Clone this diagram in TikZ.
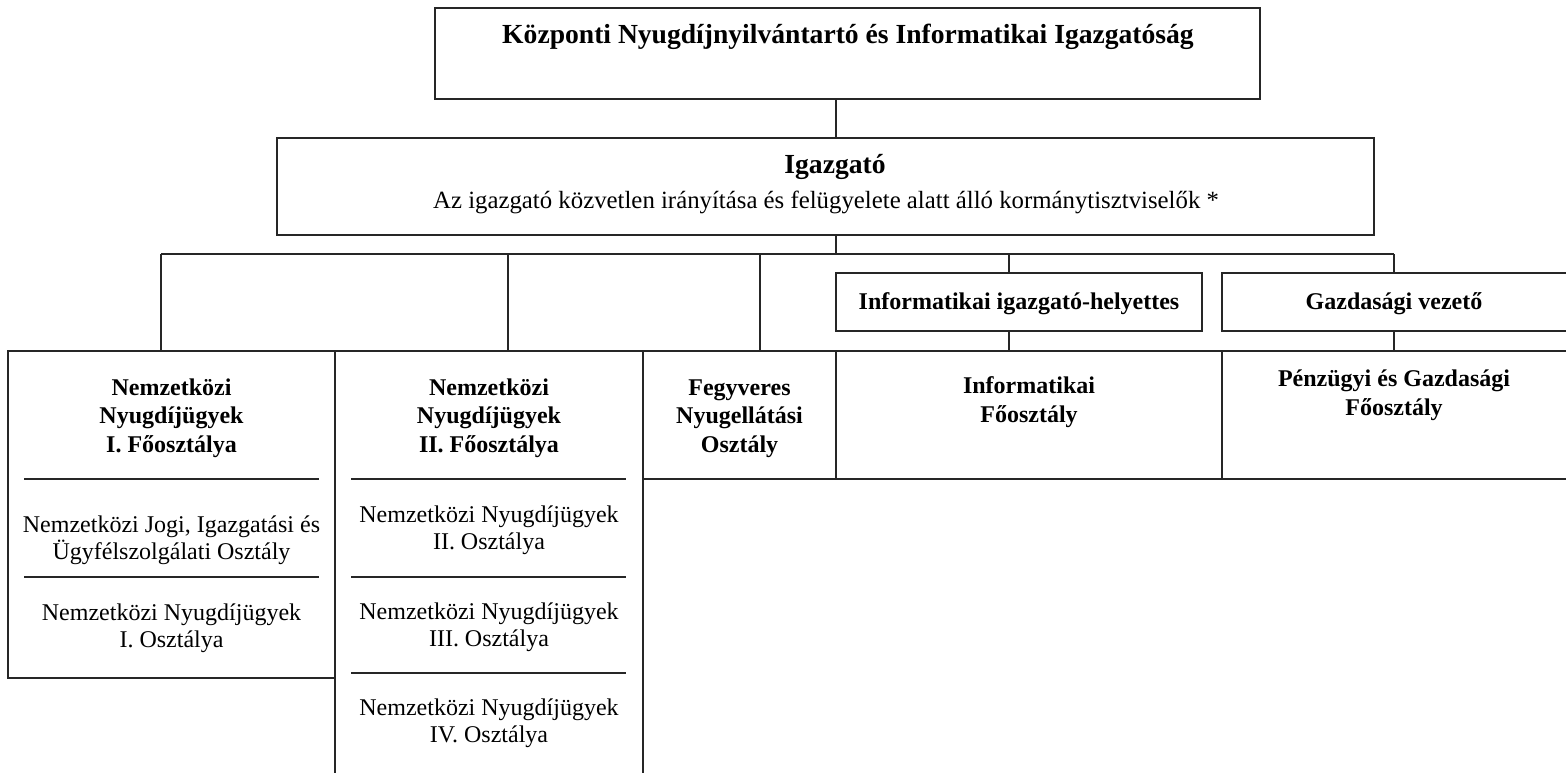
\documentclass[tikz,border=0pt]{standalone}
\usepackage{fontspec}
\setmainfont{Liberation Serif}
\newcommand\orgbox[5]{\node[boxst, minimum width={(#4-#2)*0.5pt}, minimum height={(#5-#3)*0.5pt}] (#1) at ({(#2+#4)/2},{(#3+#5)/2}) {};}
\begin{document}
\begin{tikzpicture}[x=0.5pt,y=-0.5pt,
  boxst/.style={draw=black!85, line width=0.75pt, rectangle, inner sep=0pt, outer sep=0pt},
  conn/.style={draw=black!85, line width=0.6pt},
  sepline/.style={draw=black!85, line width=0.6pt},
  ttl/.style={font=\bfseries\fontsize{12}{14.2}\selectfont, align=center, anchor=base, inner sep=0pt},
  bigttl/.style={font=\bfseries\fontsize{13.8}{16}\selectfont, align=center, anchor=base, inner sep=0pt},
  txt/.style={font=\fontsize{12}{13.3}\selectfont, align=center, anchor=base, inner sep=0pt}]
\useasboundingbox (0,0) rectangle (1566,772);
\fill[white] (0,0) rectangle (1566,772);
% boxes
\orgbox{kozp}{435}{8}{1260}{99}
\orgbox{igaz}{277}{138}{1374}{235}
\orgbox{ihely}{836}{273}{1202}{331}
\orgbox{gazd}{1222}{273}{1570}{331}
\orgbox{nf1}{8}{351}{335}{678}
\orgbox{nf2}{335}{351}{643}{800}
\orgbox{fegy}{643}{351}{836}{479}
\orgbox{infof}{836}{351}{1222}{479}
\orgbox{penz}{1222}{351}{1570}{479}
% separators
\draw[sepline] (24,479) -- (319,479);
\draw[sepline] (24,577) -- (319,577);
\draw[sepline] (351,479) -- (626,479);
\draw[sepline] (351,577) -- (626,577);
\draw[sepline] (351,673) -- (626,673);
% connectors
\coordinate (j0) at (836,254);
\coordinate (bl) at (161,254);
\coordinate (b2) at (508,254);
\coordinate (b3) at (760,254);
\coordinate (b4) at (1009,254);
\coordinate (br) at (1394,254);
\draw[conn] (kozp.south -| j0) -- (igaz.north -| j0);
\draw[conn] (igaz.south -| j0) -- (j0);
\draw[conn] (bl) -- (br);
\draw[conn] (bl) -- (nf1.north -| bl);
\draw[conn] (b2) -- (nf2.north -| b2);
\draw[conn] (b3) -- (fegy.north -| b3);
\draw[conn] (b4) -- (ihely.north -| b4);
\draw[conn] (ihely.south -| b4) -- (infof.north -| b4);
\draw[conn] (br) -- (gazd.north -| br);
\draw[conn] (gazd.south -| br) -- (penz.north -| br);
% texts (anchored at the baseline of the last line)
\node[bigttl] (kozpt) at (848,43) {Központi Nyugdíjnyilvántartó és Informatikai Igazgatóság};
\node[bigttl] (igazt) at (835,173) {Igazgató};
\node[txt, font=\fontsize{12.4}{14}\selectfont] (igazs) at (826,208) {Az igazgató közvetlen irányítása és felügyelete alatt álló kormánytisztviselők *};
\node[ttl] (ihelyt) at (1019,309) {Informatikai igazgató-helyettes};
\node[ttl] (gazdt) at (1394,309) {Gazdasági vezető};
\node[ttl] (nf1t) at (171.5,452) {Nemzetközi\\Nyugdíjügyek\\I. Főosztálya};
\node[ttl] (nf2t) at (489,452) {Nemzetközi\\Nyugdíjügyek\\II. Főosztálya};
\node[ttl] (fegyt) at (739.5,452) {Fegyveres\\Nyugellátási\\Osztály};
\node[ttl] (infoft) at (1029,422) {Informatikai\\Főosztály};
\node[ttl] (penzt) at (1394,415) {Pénzügyi és Gazdasági\\Főosztály};
\node[txt] (nf1a) at (171.5,559) {Nemzetközi Jogi, Igazgatási és\\Ügyfélszolgálati Osztály};
\node[txt] (nf1b) at (171.5,647) {Nemzetközi Nyugdíjügyek\\I. Osztálya};
\node[txt] (nf2a) at (489,549) {Nemzetközi Nyugdíjügyek\\II. Osztálya};
\node[txt] (nf2b) at (489,646) {Nemzetközi Nyugdíjügyek\\III. Osztálya};
\node[txt] (nf2c) at (489,742) {Nemzetközi Nyugdíjügyek\\IV. Osztálya};
\end{tikzpicture}
\end{document}
